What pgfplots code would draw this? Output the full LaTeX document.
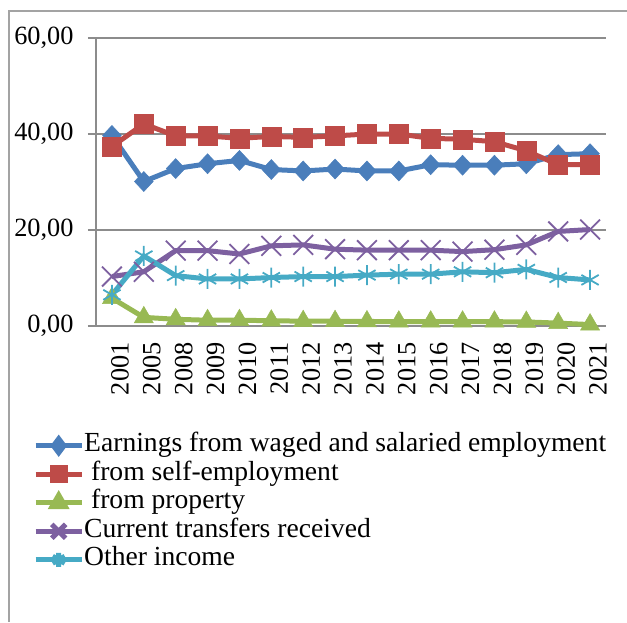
\documentclass[border=0pt]{standalone}
\usepackage{pgfplots}
\pgfplotsset{compat=1.18}
\usepackage{fontspec}
\setmainfont{Liberation Serif}
\definecolor{cBlue}{HTML}{4A7EBB}
\definecolor{cRed}{HTML}{BE4B48}
\definecolor{cGreen}{HTML}{98B954}
\definecolor{cPurple}{HTML}{7D60A0}
\definecolor{cCyan}{HTML}{46AAC5}
\definecolor{cGrid}{HTML}{8C8C8C}
\begin{document}
\fontsize{25}{30}\selectfont
\begin{tikzpicture}[x=1pt,y=1pt]
\begin{axis}[
  at={(0pt,0pt)}, anchor=south west,
  scale only axis, width=510pt, height=288pt,
  xmin=-0.5, xmax=15.5, ymin=0, ymax=60,
  axis x line*=bottom, axis y line*=left,
  axis line style={cGrid, line width=1.2pt, -},
  ytick={0,20,40,60},
  yticklabels={{0,00},{20,00},{40,00},{60,00}},
  ymajorgrids, grid style={cGrid, line width=1.2pt},
  xtick={0,...,15},
  xticklabels={2001,2005,2008,2009,2010,2011,2012,2013,2014,2015,2016,2017,2018,2019,2020,2021},
  x tick label style={rotate=90, anchor=east},
  xtick style={draw=none},
  minor xtick={-0.5,0.5,...,15.5},
  minor tick length=8pt,
  minor x tick style={cGrid, line width=1.2pt},
  major tick length=8pt,
  ytick style={cGrid, line width=1.2pt},
  tick align=outside,
  ticklabel style={font=\fontsize{26.3}{30}\selectfont},
  /pgf/number format/assume math mode=true,
  yticklabel style={xshift=-6pt},
  xticklabel style={yshift=-8pt},
  clip=false,
  legend style={draw=none, fill=none, at={(-0.1235,-0.37)}, anchor=north west,
    font=\fontsize{27.6}{28.5}\selectfont, row sep=2.5pt, inner sep=0pt,
    nodes={inner sep=0pt, text height=19pt, text depth=7pt}},
  legend cell align=left,
  legend image code/.code={\draw[mark repeat=2,mark phase=2, mark options={scale=0.7}] plot coordinates {(0pt,0pt) (23pt,0pt) (46pt,0pt)};},
  every axis plot/.append style={line width=5pt},
]
\addplot[cBlue, mark=diamond*, mark size=10pt, mark options={solid, line width=0.5pt, xscale=1.25}] coordinates {
(0,39.7) (1,30.1) (2,32.8) (3,33.8) (4,34.5) (5,32.6) (6,32.3) (7,32.7) (8,32.3) (9,32.3) (10,33.6) (11,33.5) (12,33.5) (13,33.8) (14,35.7) (15,35.9)};
\addlegendentry{Earnings from waged and salaried employment}
\addplot[cRed, mark=square*, mark size=9.5pt, mark options={solid, line width=0.5pt}] coordinates {
(0,37.4) (1,42.1) (2,39.6) (3,39.6) (4,39.1) (5,39.5) (6,39.3) (7,39.6) (8,40.0) (9,40.0) (10,39.1) (11,38.9) (12,38.4) (13,36.5) (14,33.6) (15,33.6)};
\addlegendentry{\ from self-employment}
\addplot[cGreen, mark=triangle*, mark size=11pt, mark options={solid, line width=0.5pt}] coordinates {
(0,5.8) (1,1.8) (2,1.4) (3,1.2) (4,1.2) (5,1.1) (6,1.0) (7,1.0) (8,0.95) (9,0.9) (10,0.9) (11,0.9) (12,0.9) (13,0.85) (14,0.6) (15,0.3)};
\addlegendentry{\ from property}
\addplot[cPurple, mark=x, mark size=14pt, mark options={solid, line width=1.8pt}] coordinates {
(0,10.3) (1,11.3) (2,15.7) (3,15.7) (4,15.0) (5,16.7) (6,16.9) (7,16.0) (8,15.8) (9,15.8) (10,15.8) (11,15.5) (12,15.9) (13,16.9) (14,19.7) (15,20.1)};
\addlegendentry{Current transfers received}
\addplot[cCyan, mark=asterisk, mark size=10pt, mark options={solid, line width=1.8pt}] coordinates {
(0,6.5) (1,14.6) (2,10.5) (3,9.8) (4,9.8) (5,10.1) (6,10.3) (7,10.3) (8,10.6) (9,10.8) (10,10.8) (11,11.3) (12,11.1) (13,11.8) (14,10.1) (15,9.6)};
\addlegendentry{Other income}
\end{axis}
\draw[cGrid!80, line width=1.2pt] (-87pt,-296pt) -- (-87pt,315pt) -- (531pt,315pt);
\pgfresetboundingbox
\path[use as bounding box] (-96pt,-296pt) rectangle (531pt,326pt);
\end{tikzpicture}
\end{document}
